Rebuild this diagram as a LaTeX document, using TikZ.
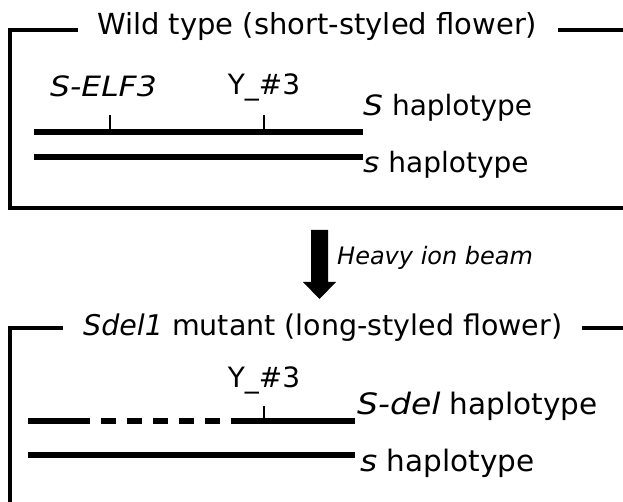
\documentclass[tikz,border=0pt]{standalone}
\usepackage{fontspec}
\setmainfont{DejaVu Sans}
\newfontfamily\wideit{DejaVu Sans}[FakeStretch=1.12]
\newcommand{\gn}[1]{{\wideit\itshape #1}}
\begin{document}
\begin{tikzpicture}[x=1pt,y=-1pt,
  frame/.style={line width=3.2pt},
  chrom/.style={line width=6.5pt},
  tick/.style={line width=2.5pt},
  lbl/.style={inner sep=0pt,font=\fontsize{28}{30}\selectfont},
  lblb/.style={inner sep=0pt,font=\fontsize{29.5}{31}\selectfont},
  ttl/.style={inner sep=0pt,font=\fontsize{29}{31}\selectfont},
  ttlb/.style={inner sep=0pt,font=\fontsize{28.5}{31}\selectfont},
  small/.style={inner sep=0pt,font=\fontsize{24}{26}\selectfont\itshape}]
\useasboundingbox (0,0) rectangle (623,502);
% ---------- top box ----------
\node[ttl,anchor=base west] (t1) at (97,35) {Wild type (short-styled flower)};
\coordinate (c1) at (10,30);
\path (t1.west) ++(-19,0) coordinate (a1);
\path (t1.east) ++(21,0) coordinate (b1);
\draw[frame] (a1 |- c1) -- (c1) -- (10,208) -- (640,208);
\draw[frame] (b1 |- c1) -- (640,30);
\node[lbl,anchor=base west] (elf) at (50,97) {\gn{S-ELF3}};
\node[lbl,anchor=base] (y1) at (264,95) {Y\_\#3};
\coordinate (l1a) at (34,132);
\coordinate (l1b) at (363,132);
\coordinate (l2a) at (34,157);
\coordinate (l2b) at (363,157);
\draw[chrom] (l1a) -- (l1b);
\draw[chrom] (l2a) -- (l2b);
\coordinate (k1) at (110,132);
\coordinate (k2) at (264,132);
\draw[tick] (k1) -- ++(0,-17);
\draw[tick] (k2) -- ++(0,-17);
\node[lbl,anchor=base west] (hS) at (363,116) {\gn{S} haplotype};
\node[lbl,anchor=base west] (hs) at (363,173) {\gn{s} haplotype};
% ---------- arrow ----------
\fill (311,230) -- (328,230) -- (328,282) -- (336,282) -- (319.5,299) -- (303,282) -- (311,282) -- cycle;
\node[small,anchor=base west] (beam) at (337,265) {Heavy ion beam};
% ---------- bottom box ----------
\node[ttlb,anchor=base west] (t2) at (83,335) {\textit{Sdel1} mutant (long-styled flower)};
\coordinate (c2) at (10,328);
\path (t2.west) ++(-20,0) coordinate (a2);
\path (t2.east) ++(20,0) coordinate (b2);
\draw[frame] (a2 |- c2) -- (c2) -- (10,520);
\draw[frame] (b2 |- c2) -- (640,328);
\node[lbl,anchor=base] (y2) at (264,387) {Y\_\#3};
\coordinate (d1) at (28,421);
\coordinate (d2) at (90,421);
\coordinate (d3) at (231,421);
\coordinate (d4) at (355,421);
\draw[chrom] (d1) -- (d2);
\draw[chrom,dash pattern=on 15pt off 11pt,dash phase=15pt] (d2) -- (d3);
\draw[chrom] (d3) -- (d4);
\coordinate (k3) at (264,421);
\draw[tick] (k3) -- ++(0,-15);
\coordinate (e1) at (28,455);
\coordinate (e2) at (355,455);
\draw[chrom] (e1) -- (e2);
\node[lblb,anchor=base west] (hd) at (357,414) {\gn{S-del} haplotype};
\node[lblb,anchor=base west] (hs2) at (360,471) {\gn{s} haplotype};
\end{tikzpicture}
\end{document}
